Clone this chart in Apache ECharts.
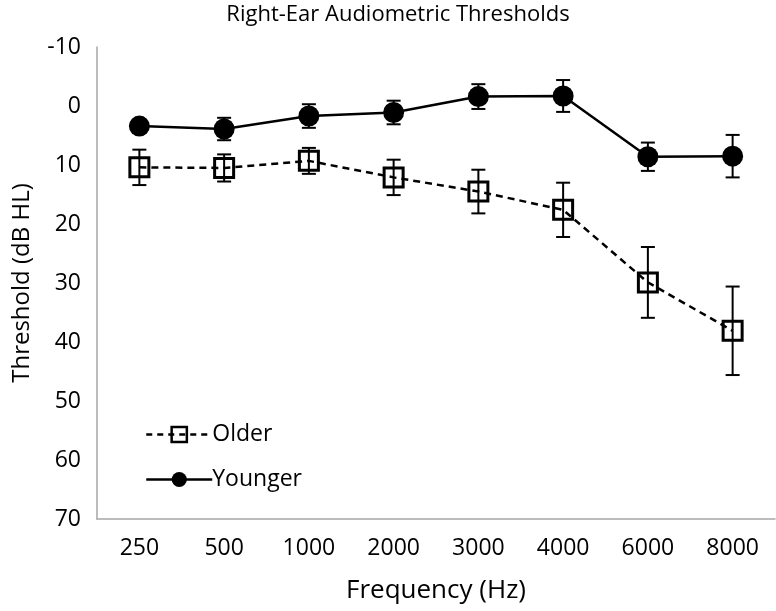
<!DOCTYPE html>
<html>
<head>
<meta charset="utf-8">
<script src="https://cdn.jsdelivr.net/npm/echarts@6/dist/echarts.min.js"></script>
<style>html,body{margin:0;padding:0;background:#fff}#c{width:776px;height:611px}</style>
</head>
<body>
<div id="c"></div>
<script>
var categories = ['250', '500', '1000', '2000', '3000', '4000', '6000', '8000'];
var olderMean = [10.4, 10.5, 9.3, 12.1, 14.5, 17.6, 29.9, 38.1];
var olderErr = [3.0, 2.3, 2.2, 3.0, 3.7, 4.6, 6.0, 7.5];
var youngerMean = [3.4, 3.9, 1.7, 1.1, -1.6, -1.7, 8.6, 8.5];
var youngerErr = [0.6, 1.9, 2.0, 2.0, 2.1, 2.7, 2.4, 3.6];
var yTicks = [-10, 0, 10, 20, 30, 40, 50, 60, 70];

var FONT = 'Open Sans';

function errData(mean, err) {
  return mean.map(function (m, i) { return [i, m - err[i], m + err[i]]; });
}
function errRender(params, api) {
  var x = api.value(0);
  var lo = api.coord([x, api.value(1)]);
  var hi = api.coord([x, api.value(2)]);
  var cap = 7;
  var st = { stroke: '#000', lineWidth: 2 };
  return {
    type: 'group',
    children: [
      { type: 'line', shape: { x1: lo[0], y1: lo[1], x2: hi[0], y2: hi[1] }, style: st },
      { type: 'line', shape: { x1: lo[0] - cap, y1: lo[1], x2: lo[0] + cap, y2: lo[1] }, style: st },
      { type: 'line', shape: { x1: hi[0] - cap, y1: hi[1], x2: hi[0] + cap, y2: hi[1] }, style: st }
    ]
  };
}

var chart = echarts.init(document.getElementById('c'), null, { renderer: 'canvas' });
chart.setOption({
  animation: false,
  backgroundColor: '#fff',
  textStyle: { fontFamily: FONT },
  title: {
    text: 'Right-Ear Audiometric Thresholds',
    left: 393, top: -1, textAlign: 'center',
    textStyle: { fontFamily: FONT, fontSize: 22, fontWeight: 'normal', color: '#000' }
  },
  legend: {
    orient: 'vertical',
    left: 140, top: 418,
    itemWidth: 66, itemHeight: 19, itemGap: 22,
    data: [
      { name: 'Older', lineStyle: { width: 2.5, type: [6, 5], color: '#000' }, itemStyle: { borderWidth: 2.5 } },
      { name: 'Younger', lineStyle: { width: 2.5, color: '#000' } }
    ],
    textStyle: { fontFamily: FONT, fontSize: 23, color: '#000', padding: [0, 0, 0, -5] }
  },
  grid: { left: 97, right: 1, top: 47, bottom: 92 },
  xAxis: {
    type: 'category',
    data: categories,
    boundaryGap: true,
    name: 'Frequency (Hz)',
    nameLocation: 'middle',
    nameGap: 59,
    nameTextStyle: { fontFamily: FONT, fontSize: 26, color: '#000' },
    axisLine: { onZero: false, lineStyle: { color: '#a6a6a6', width: 1.5 } },
    axisTick: { show: false },
    axisLabel: { fontFamily: FONT, fontSize: 23, color: '#000', margin: 18 },
    splitLine: { show: false }
  },
  yAxis: {
    type: 'value',
    inverse: true,
    min: yTicks[0], max: yTicks[yTicks.length - 1], interval: 10,
    name: 'Threshold (dB HL)',
    nameLocation: 'middle',
    nameGap: 63,
    nameTextStyle: { fontFamily: FONT, fontSize: 24, color: '#000' },
    axisLine: { show: true, lineStyle: { color: '#a6a6a6', width: 1.5 } },
    axisTick: { show: false },
    axisLabel: { fontFamily: FONT, fontSize: 23, color: '#000', margin: 16 },
    splitLine: { show: false }
  },
  series: [
    {
      name: 'Older', type: 'line', data: olderMean,
      symbol: 'rect', symbolSize: 19,
      lineStyle: { color: '#000', width: 2.5, type: [7, 5] },
      itemStyle: { color: 'rgba(255,255,255,0)', borderColor: '#000', borderWidth: 3 },
      z: 3
    },
    {
      name: 'Younger', type: 'line', data: youngerMean,
      symbol: 'circle', symbolSize: 21,
      lineStyle: { color: '#000', width: 2.5 },
      itemStyle: { color: '#000', borderColor: '#000', borderWidth: 0 },
      z: 3
    },
    {
      type: 'custom', name: 'olderErr', data: errData(olderMean, olderErr),
      renderItem: errRender, z: 4, silent: true,
      encode: { x: 0, y: [1, 2] }
    },
    {
      type: 'custom', name: 'youngerErr', data: errData(youngerMean, youngerErr),
      renderItem: errRender, z: 2, silent: true,
      encode: { x: 0, y: [1, 2] }
    }
  ]
});
</script>
</body>
</html>
